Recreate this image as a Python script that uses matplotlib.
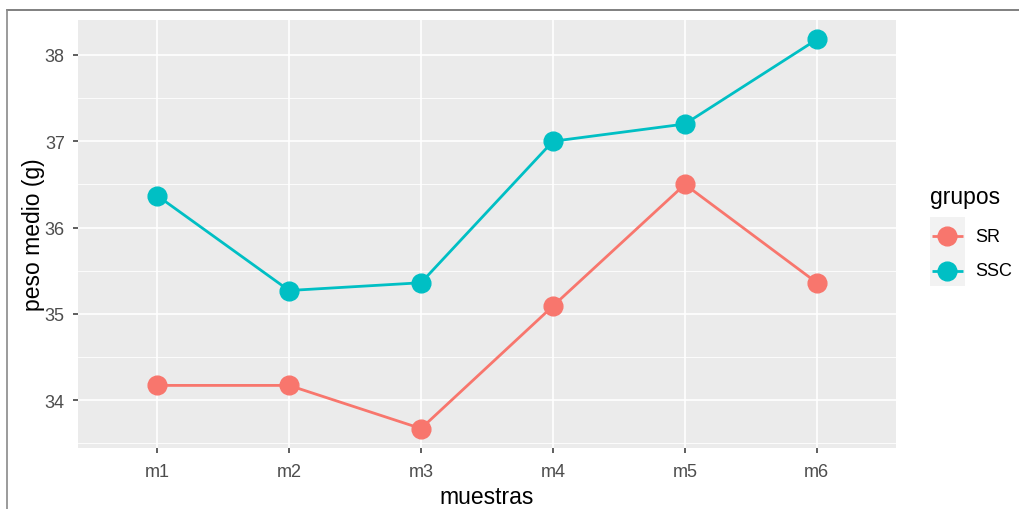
import matplotlib
matplotlib.use("Agg")
import matplotlib.pyplot as plt
from matplotlib.lines import Line2D
from matplotlib.patches import Rectangle
import numpy as np

categories = ["m1", "m2", "m3", "m4", "m5", "m6"]
sr_values = [34.17, 34.17, 33.67, 35.09, 36.50, 35.36]
ssc_values = [36.37, 35.27, 35.36, 37.00, 37.20, 38.18]
series_names = ["SR", "SSC"]
series_colors = ["#F8766D", "#00BFC4"]
y_ticks = [34, 35, 36, 37, 38]

plt.rcParams['font.family'] = ['Liberation Sans', 'DejaVu Sans']

W, H = 1020, 510
fig = plt.figure(figsize=(W / 100, H / 100), dpi=100)

def fx(px):
    return px / W

def fy(py):
    return 1 - py / H

# outer border lines (top and left)
fig.add_artist(Line2D([fx(7), 1.0], [fy(11), fy(11)], color="#6b6b6b", lw=1.2))
fig.add_artist(Line2D([fx(7.5), fx(7.5)], [0, fy(11)], color="#8a8a8a", lw=1.2))

left, right, top, bottom = 78, 896, 21, 449
ax = fig.add_axes([fx(left), fy(bottom), (right - left) / W, (bottom - top) / H])
ax.set_facecolor("#EBEBEB")
for s in ax.spines.values():
    s.set_visible(False)

x = np.arange(1, len(categories) + 1)
allv = sr_values + ssc_values
lo, hi = min(allv), max(allv)
pad = (hi - lo) * 0.05

# grid
minor = [t + 0.5 for t in range(33, 38)]
ax.set_yticks(y_ticks)
ax.set_yticks(minor, minor=True)
ax.set_xticks(x)
ax.set_xticklabels(categories)
ax.set_ylim(lo - pad, hi + pad)
ax.set_xlim(0.4, len(categories) + 0.6)
ax.grid(which="major", color="white", lw=1.2)
ax.grid(which="minor", axis="y", color="white", lw=0.6)
ax.set_axisbelow(True)

for vals, name, col in zip([sr_values, ssc_values], series_names, series_colors):
    ax.plot(x, vals, color=col, lw=2.0, marker="o", markersize=13.5, label=name,
            solid_capstyle="butt", zorder=3)

ax.tick_params(which="major", length=3.5, width=1.1, color="#333333",
               labelcolor="#4D4D4D", labelsize=13)
ax.tick_params(axis="x", which="major", pad=7)
ax.tick_params(axis="y", which="major", pad=6)
ax.tick_params(which="minor", length=0)
ax.set_xlabel("muestras", fontsize=16.5, color="black", labelpad=4)
ax.set_ylabel("peso medio (g)", fontsize=16.5, color="black", labelpad=0)

# legend (drawn manually, ggplot style)
fig.text(fx(930), fy(198), "grupos", fontsize=16.5, ha="left", va="center")
key_top, key_h, key_w = 218, 34.5, 35
fig.add_artist(Rectangle((fx(930), fy(key_top + 2 * key_h)), key_w / W, 2 * key_h / H,
                         facecolor="#F2F2F2", edgecolor="none"))
for i, (name, col) in enumerate(zip(series_names, series_colors)):
    cy = key_top + key_h * (i + 0.5) + 2
    fig.add_artist(Line2D([fx(932), fx(963)], [fy(cy), fy(cy)], color=col, lw=2.0,
                          solid_capstyle="butt"))
    fig.add_artist(Line2D([fx(947.5)], [fy(cy)], color=col, marker="o",
                          markersize=13.5, lw=0))
    fig.text(fx(975), fy(cy), name, fontsize=13, ha="left", va="center")

fig.savefig("out.png", dpi=100)
